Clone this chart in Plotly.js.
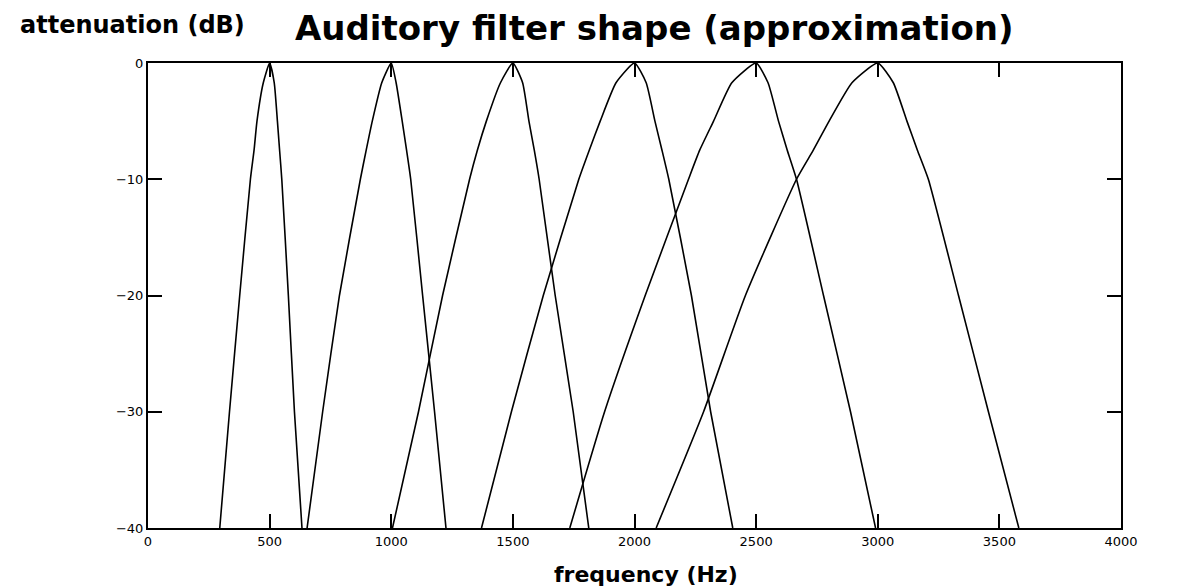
<!DOCTYPE html>
<html>
<head>
<meta charset="utf-8">
<script src="https://cdn.plot.ly/plotly-3.0.1.min.js"></script>
<style>html,body{margin:0;padding:0;background:#fff;}#chart{width:1194px;height:586px;}</style>
</head>
<body>
<div id="chart"></div>
<script>
// attenuation levels (dB) at which each filter's frequency was read, left flank -> peak -> right flank
const dbLevels = [-40, -30, -20, -10, -7.5, -5, -1.7, 0, -1.7, -5, -7.5, -10, -20, -30, -40];
// centre frequencies (Hz)
const centres = [500, 1000, 1500, 2000, 2500, 3000];
// frequency (Hz) of each filter at the levels above
const f500  = [295, 335, 377, 421, 436, 448, 474, 500, 519, 532, 541, 550, 577, 602, 633];
const f1000 = [654, 718, 787, 873, 897, 922, 961, 1000, 1020, 1045, 1063, 1080, 1129, 1178, 1225];
const f1500 = [1005, 1112, 1211, 1322, 1354, 1391, 1449, 1500, 1540, 1566, 1588, 1608, 1674, 1748, 1812];
const f2000 = [1371, 1494, 1625, 1771, 1814, 1859, 1924, 2000, 2048, 2084, 2113, 2141, 2234, 2313, 2404];
const f2500 = [1734, 1877, 2044, 2222, 2268, 2325, 2400, 2500, 2549, 2592, 2628, 2666, 2777, 2888, 2991];
const f3000 = [2089, 2284, 2456, 2666, 2735, 2800, 2894, 3000, 3064, 3120, 3163, 3208, 3332, 3455, 3580];
const xTicks = [0, 500, 1000, 1500, 2000, 2500, 3000, 3500, 4000];
const yTicks = [0, -10, -20, -30, -40];
const yTickText = ['0', '\u221210', '\u221220', '\u221230', '\u221240'];

const series = [f500, f1000, f1500, f2000, f2500, f3000];
const traces = series.map((f, i) => ({
  type: 'scatter', mode: 'lines', name: centres[i] + ' Hz',
  x: f, y: dbLevels,
  line: {color: '#000', width: 1.6, shape: 'spline', smoothing: 0.5},
  hoverinfo: 'x+y'
}));

const tickFont = {family: 'DejaVu Sans, sans-serif', size: 13, color: '#000'};
const layout = {
  width: 1194, height: 586,
  margin: {l: 148, r: 73, t: 63, b: 58},
  paper_bgcolor: '#fff', plot_bgcolor: '#fff',
  showlegend: false,
  xaxis: {
    range: [0, 4000], tickvals: xTicks, ticktext: xTicks.map(String),
    showgrid: false, zeroline: false, showline: true, linecolor: '#000', linewidth: 2,
    mirror: 'ticks', ticks: 'inside', ticklen: 14, tickwidth: 2, tickcolor: '#000',
    tickfont: tickFont
  },
  yaxis: {
    range: [-40, 0], tickvals: yTicks, ticktext: yTickText,
    showgrid: false, zeroline: false, showline: true, linecolor: '#000', linewidth: 2,
    mirror: 'ticks', ticks: 'inside', ticklen: 14, tickwidth: 2, tickcolor: '#000',
    tickfont: tickFont
  },
  annotations: [
    {text: 'Auditory filter shape (approximation)', xref: 'paper', yref: 'paper',
     x: 0.521, y: 1.075, xanchor: 'center', yanchor: 'middle', showarrow: false,
     font: {family: 'DejaVu Sans, sans-serif', size: 34, color: '#000', weight: 'bold'}},
    {text: 'attenuation (dB)', xref: 'paper', yref: 'paper',
     x: -0.0164, y: 1.082, xanchor: 'center', yanchor: 'middle', showarrow: false,
     font: {family: 'DejaVu Sans, sans-serif', size: 24, color: '#000', weight: 'bold'}},
    {text: 'frequency (Hz)', xref: 'paper', yref: 'paper',
     x: 0.512, y: -0.099, xanchor: 'center', yanchor: 'middle', showarrow: false,
     font: {family: 'DejaVu Sans, sans-serif', size: 22, color: '#000', weight: 'bold'}}
  ]
};

Plotly.newPlot('chart', traces, layout, {displayModeBar: false, staticPlot: true});
</script>
</body>
</html>
